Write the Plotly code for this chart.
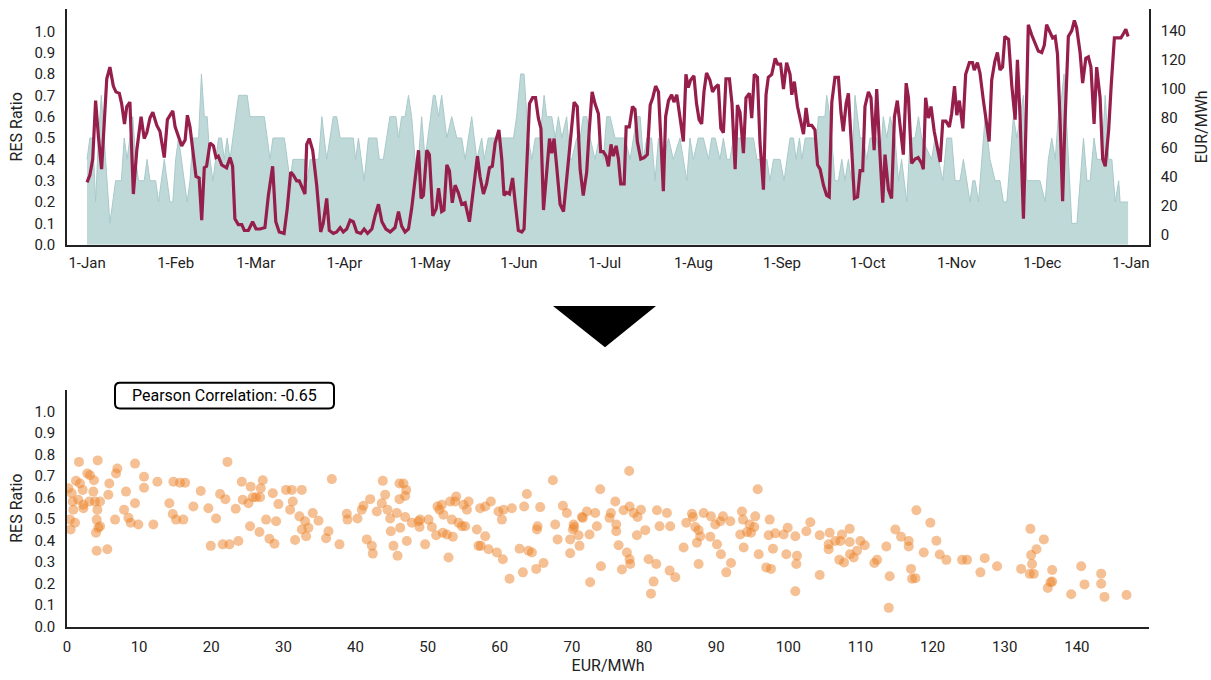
import plotly.graph_objects as go
import pandas as pd

# ---------------- data ----------------
base_date = "2021-01-01"

# daily RES ratio (area, left axis): day offset from 1-Jan, value
res_day = list(range(0, 72)) + [
    72, 76, 77, 78, 81, 82.1, 83.8, 86.1, 87.3, 88.5, 93.1, 93.9, 94.9, 96.9, 98.4, 101.3, 102.2,
    103.6, 105.9, 108, 108.9, 110, 111.2, 112.4, 113.5, 115.3, 117, 118.2, 121.1, 121.7, 122.9,
    124, 125.8, 127.5, 129.3, 131, 132.2, 134.5, 136.3, 138, 138.9, 140.3, 144.4,
    149.1, 150.2, 151.6, 152.8, 154.3, 155.5, 156.7, 158.4, 159.8, 160.7, 162.5, 163.7, 164.8,
    166, 167.7, 168.9, 169.5, 171.2, 172.4, 173.5, 174.7, 175.9, 177.6, 179.1, 180.5, 181.7,
    182.9, 184.6, 188.1, 189.9, 191, 192.2, 193.4, 194.5, 195.7, 197.4, 198.6, 199.8, 201.5,
    203.3, 205, 207.3, 209.7, 210.8, 212, 213.7, 215.5, 217.3, 218.4,
    219.6, 221.3, 222.5, 223.7, 224.8, 226, 233, 234.2, 236.5, 237.7, 238.8, 240, 242.3, 243.7,
    245.8, 247, 247.9, 249.1, 249.9, 251.1, 255.1, 255.7, 258, 258.6, 259.8, 261.5, 262.7, 263.9,
    265, 266.2, 267.3, 268.5, 270.3, 271.4, 272.6, 273.8, 276.1, 277.3, 278.4, 279.6, 280.8,
    282.5, 283.7, 284.8, 286.6, 287.8, 289.5, 290.7, 291.8,
    295.3, 296.5, 297.7, 299.2, 300.6, 302.3, 303.5, 305.2, 306.4, 307.6, 308.7, 309.7, 310.5,
    311.7, 312.8, 314, 315.7, 317.5, 319.2, 320.4, 321.6, 322.7, 323.9, 325.1, 326.2, 327.4,
    328.6, 330.3, 333.2, 335, 336.1, 337.3, 338.5, 339.6, 340.8, 341.6, 343.1, 344.3, 346.1,
    347.2, 348.4, 349.6, 350.7, 352.1, 353.1, 354.8, 356, 357.2, 358.3, 359.5, 360.7, 361.2, 364]
res_ratio = [
    0.4, 0.5, 0.5, 0.2, 0.5, 0.7, 0.5, 0.3, 0.1, 0.2,
    0.3, 0.3, 0.3, 0.5, 0.4, 0.5, 0.6, 0.4, 0.3, 0.3,
    0.3, 0.4, 0.3, 0.3, 0.3, 0.2, 0.3, 0.4, 0.3, 0.2,
    0.2, 0.4, 0.5, 0.4, 0.3, 0.2, 0.3, 0.5, 0.5, 0.5,
    0.8, 0.6, 0.6, 0.4, 0.3, 0.4, 0.5, 0.5, 0.4, 0.5,
    0.4, 0.5, 0.6, 0.7, 0.7, 0.7, 0.7, 0.6, 0.6, 0.6,
    0.6, 0.6, 0.6, 0.5, 0.4, 0.5, 0.5, 0.5, 0.5, 0.5,
    0.4, 0.3,
    0.4, 0.4, 0.3, 0.4, 0.4, 0.6, 0.4, 0.6, 0.6, 0.5, 0.5, 0.4, 0.5, 0.3, 0.5, 0.5, 0.4,
    0.4, 0.6, 0.6, 0.5, 0.6, 0.6, 0.7, 0.6, 0.3, 0.6, 0.4, 0.7, 0.7, 0.6,
    0.7, 0.5, 0.6, 0.5, 0.5, 0.4, 0.6, 0.4, 0.5, 0.4, 0.5, 0.5,
    0.5, 0.6, 0.8, 0.8, 0.5, 0.4, 0.5, 0.5, 0.7, 0.6, 0.6, 0.5, 0.6,
    0.5, 0.6, 0.4, 0.4, 0.5, 0.5, 0.6, 0.6, 0.5, 0.4, 0.5, 0.4, 0.6,
    0.6, 0.5, 0.5, 0.4, 0.5, 0.6, 0.6, 0.4, 0.5, 0.5, 0.3, 0.5, 0.4,
    0.5, 0.4, 0.5, 0.3, 0.5, 0.4, 0.5, 0.5, 0.4, 0.5,
    0.5, 0.4, 0.5, 0.4, 0.4, 0.5, 0.5, 0.4, 0.4, 0.4, 0.3, 0.4, 0.4, 0.3,
    0.5, 0.5, 0.4, 0.5, 0.4, 0.5, 0.5, 0.6, 0.6, 0.7, 0.6, 0.3, 0.3, 0.4,
    0.3, 0.4, 0.3, 0.7, 0.5, 0.5, 0.4, 0.5, 0.5, 0.4, 0.6, 0.5, 0.6,
    0.5, 0.3, 0.4, 0.2, 0.5, 0.5, 0.6, 0.5,
    0.4, 0.5, 0.4, 0.3, 0.5, 0.5, 0.3, 0.3, 0.4, 0.3, 0.2, 0.3, 0.3,
    0.2, 0.4, 0.6, 0.4, 0.3, 0.3, 0.2, 0.2, 0.4, 0.6, 0.5, 0.6, 0.7,
    0.3, 0.3, 0.3, 0.2, 0.4, 0.5, 0.4, 0.6, 0.7, 0.8, 0.4, 0.1, 0.1,
    0.3, 0.5, 0.3, 0.3, 0.5, 0.4, 0.4, 0.7, 0.4, 0.4, 0.2, 0.3, 0.2, 0.2]

# daily electricity price (line, right axis): day offset from 1-Jan, EUR/MWh
price_day = [
    0, 1, 2, 3, 4, 5.1, 6.9, 8, 9.2, 10.1, 11.3, 12.1, 13.1, 13.9, 15, 16.2, 17.4, 18.9, 20, 20.9,
    22, 23, 24.4, 25.5, 27, 28.1, 30, 30.8, 31.7, 33.1, 34.3, 35.1, 36, 37.2, 38.1, 39.2, 40.1, 41,
    41.8, 43, 44.2, 45.1, 45.9, 47.1, 48.8, 50, 50.9, 51.7, 52.9, 54.1, 55, 56.4, 57.9, 59.1, 60.5,
    62.2, 63.4, 64.9, 66, 67.2, 68.9, 70, 71.2,
    72.1, 73.3, 74.2, 75.4, 76.2, 76.8, 77.7, 78.9, 80.3, 81.7, 82.6, 83.8, 84.7, 86.1, 87.3, 88.5,
    89.6, 90.8, 92, 93.1, 94.3, 95.7, 96.9, 98.1, 99.6, 100.7, 101.9, 103.1, 104.5, 106, 107.7,
    108.9, 110, 111.2, 112.4, 113.5, 114.7, 115.9, 116.8, 117.6, 118.8, 119.7, 120.9, 122.1, 122.9,
    124, 124.8, 125.8, 126.7, 127.7, 128.7, 129.8, 131, 132.2, 133.7, 135.1, 136.5, 137.4, 138.6,
    139.7, 140.7, 141.7, 142.7, 144,
    145, 145.8, 146.7, 147.7, 148.8, 149.7, 150.8, 152, 152.8, 153.7, 154.7, 155.8, 156.8, 157.8,
    158.7, 159.6, 160.7, 161.7, 162.5, 163.3, 164.2, 165.4, 166.6, 167.7, 168.9, 170.3, 171.4,
    172.4, 173.5, 174.7, 175.6, 176.6, 177.6, 178.8, 179.6, 180.5, 181.5, 182.3, 183.2, 184, 185,
    185.8, 186.6, 187.8, 188.5, 189.6, 190.7, 191.6, 192.4, 193.6, 194.8, 195.9, 196.9, 197.8,
    198.8, 199.8, 200.6, 201.5, 202.3, 203.3, 204.4, 205.2, 206.2, 207.3, 208.5, 209.4, 210.2,
    211, 212.2, 213.1, 214, 214.9, 215.7, 216.6,
    217.8, 218.7, 219.6, 220.7, 221.6, 222.5, 223.4, 224.6, 225.5, 226.6, 227.4, 228.3, 229.5,
    230.4, 231.6, 232.4, 233.3, 234.4, 235.3, 236.5, 237.4, 238.2, 239.4, 240.6, 241.5, 242.5,
    243.5, 244.6, 245.8, 246.4, 247.3, 248.4, 249.3, 250.5, 251.4, 252.2, 253.4, 254.5, 255.4,
    256.3, 257.5, 258.6, 259.5, 260.4, 261.5, 262.7, 263.6, 264.4, 265.4, 266.2, 267.4, 268.3,
    269.4, 270.3, 271.2, 272, 273.2, 274.1, 275.2, 276.1, 277.3, 278.2, 279, 280.2, 281.3, 282.3,
    283.3, 284.3, 285.4, 286.4, 287.2, 288.3, 289.5, 290.6, 291.8,
    292.4, 293.2, 294.2, 295.1, 296.2, 297.1, 298.3, 299.2, 300.3, 301.5, 302.3, 303.3, 304.1,
    305, 306.2, 307.2, 308.5, 309.6, 310.2, 311.3, 312.2, 313.4, 314.3, 315.4, 316.3, 317.4,
    318.3, 319.2, 320.1, 320.9, 322.2, 323.3, 324.5, 325.3, 326.2, 327.4, 328.3, 329.1, 330.3,
    331.4, 332.6, 333.8, 334.7, 335.5, 336.7, 337.6, 338.5, 339.3, 340.2, 341.1, 341.9, 343.1,
    344.3, 345.2, 346, 347.2, 348.1, 349.2, 350.1, 351, 352.1, 353, 354.2, 355.1, 356, 357.2,
    358.1, 359.2, 360.4, 361.5, 362.4, 363.2, 364]
price_eur = [
    36, 41, 52, 92, 67, 45, 107, 115, 102, 98, 97, 90, 76, 88, 91, 28, 58, 81, 66, 70,
    80, 84, 75, 71, 53, 79, 85, 74, 69, 61, 65, 82, 74, 52, 40, 39, 10, 46,
    47, 63, 61, 53, 54, 48, 46, 53, 47, 11, 7, 7, 3, 3, 9, 4, 4,
    5, 27, 47, 9, 2, 1, 18, 43,
    41, 37, 37, 31, 28, 62, 66, 58, 34, 2, 8, 25, 3, 1, 2, 5,
    2, 4, 10, 9, 2, 1, 4, 1, 4, 13, 21, 9, 4, 2, 5,
    16, 6, 2, 4, 18, 40, 58, 25, 27, 58, 55, 13, 18, 32,
    16, 17, 48, 44, 22, 34, 29, 21, 22, 9, 31, 54, 40, 28,
    35, 46, 47, 63, 72,
    52, 27, 29, 28, 39, 22, 3, 2, 4, 45, 90, 94, 94, 80,
    73, 17, 45, 66, 56, 66, 47, 21, 16, 38, 63, 91, 88,
    45, 27, 43, 72, 98, 90, 83, 57, 57, 54, 47, 62, 54, 61,
    52, 35, 35, 74, 74, 88, 86, 64, 52, 53, 55, 89, 94,
    102, 98, 67, 30, 81, 92, 96, 91, 96, 81, 64, 110, 101,
    106, 109, 90, 79, 76, 98, 111,
    106, 98, 101, 103, 73, 70, 107, 107, 90, 45, 89, 84, 56,
    94, 97, 80, 110, 108, 63, 31, 96, 108, 110, 121, 117, 117,
    100, 118, 110, 96, 105, 88, 80, 69, 87, 75, 75, 72, 48,
    45, 34, 27, 26, 91, 108, 108, 84, 71, 90, 97, 57, 25,
    26, 44, 44, 88, 98, 94, 58, 100, 53, 22, 55, 31, 25, 81,
    92, 76, 55, 104, 94, 49, 52, 53, 49,
    45, 94, 80, 88, 71, 63, 50, 78, 78, 74, 83, 102, 82,
    92, 73, 110, 118, 118, 113, 118, 111, 92, 80, 64, 106, 119,
    125, 113, 115, 136, 134, 103, 79, 120, 82, 11, 76, 144, 137,
    131, 126, 125, 130, 144, 138, 135, 136, 124, 79, 23, 76, 136,
    140, 147, 142, 125, 104, 121, 122, 115, 76, 115, 94, 52, 47, 72,
    103, 135, 135, 135, 138, 141, 136]

# scatter: daily price (EUR/MWh) vs RES ratio
scatter_eur = [
    1.66, 4.25, 0.18, 0.65, 1.25, 1.80, 0.79, 0.42, 0.51, 0.88, 1.11, 1.57, 2.27, 2.82, 3.19, 2.17,
    2.27, 3.10, 3.74, 3.65, 3.88, 4.58, 4.21, 4.11, 4.02, 4.11, 4.35, 4.58, 5.73, 5.87, 5.59, 6.66,
    6.80, 6.98, 7.91, 8.18, 8.51, 8.83, 9.43, 9.43, 9.89, 10.68, 10.68, 11.97, 12.53, 14.19, 14.66,
    15.12, 14.75, 15.67, 16.37, 16.13, 17.52, 18.54, 19.60, 19.93, 20.67, 21.22, 21.96, 22.24,
    21.59, 22.52, 23.39, 23.76, 24.23, 24.36, 25.15, 25.38, 25.47, 25.75, 26.21, 26.68, 26.77,
    26.86, 27.14, 27.60, 28.06, 28.53, 28.76, 28.99, 29.31, 30.37, 31.16, 30.93, 31.30, 31.62,
    32.22, 32.55, 32.55, 33.01, 33.15, 33.47, 34.07, 34.86, 35.92, 36.25, 36.71, 37.77, 38.79,
    38.88, 40.27, 40.87, 41.10, 41.56, 42.03, 42.26, 42.39, 42.95, 43.64, 43.78, 44.11, 44.43,
    44.80, 44.89, 45.26, 45.72, 45.82, 46.19, 46.09, 46.09,
    46.65, 47.02, 46.88, 47.11, 46.88, 47.80, 48.73, 48.96, 48.87, 49.65, 50.12, 50.58, 51.18,
    51.36, 51.64, 51.96, 52.19, 52.10, 52.66, 52.89, 53.49, 53.35, 53.12, 53.81, 53.95, 54.28,
    54.97, 54.74, 55.20, 55.67, 55.44, 56.82, 57.05, 57.37, 57.28, 57.98, 57.98, 58.44, 58.76,
    59.59, 59.82, 60.42, 60.29, 60.51, 61.35, 61.67, 62.74, 63.20, 63.38, 63.75, 63.98, 64.45,
    65.14, 65.23, 65.05, 65.60, 66.06, 67.36, 67.68, 68.01, 68.75, 69.30, 69.76, 69.76, 70.13,
    70.23, 70.32, 71.05, 70.92, 71.38, 71.51, 72.07, 72.44, 72.53, 73.23, 73.46, 73.92, 74.02,
    75.21, 75.40, 76.01, 76.14, 76.14, 76.47, 76.93, 77.16, 77.62, 77.99, 77.99, 78.08, 77.94,
    78.55, 79.10, 79.01, 79.57, 80.17, 80.63, 81.32, 80.96, 81.69, 81.79, 82.15, 83.17, 83.54,
    83.63, 84.33, 85.48, 85.85, 86.64, 86.78, 87.10, 87.33, 87.56, 87.56, 87.79, 88.26, 89.18,
    89.27, 89.87, 90.11, 90.57, 90.66, 90.94, 91.40, 91.96, 92.05, 93.34, 93.57, 93.81, 93.71,
    94.27, 94.64, 94.82, 95.28, 95.42, 95.89, 95.75, 96.94, 97.27, 97.41, 97.59, 97.87, 98.19,
    99.35, 99.72, 99.91, 100.97, 101.11, 101.20, 100.97,
    103.05, 102.50, 104.35, 105.73, 105.59, 105.59, 106.52, 107.21, 107.44, 108.51, 108.51,
    109.99, 110.59, 109.06, 109.52, 108.55, 107.07, 107.72, 104.35, 111.93, 112.30, 113.59,
    114.05, 113.92, 114.84, 115.63, 116.69, 116.69, 117.01, 117.15, 117.61, 117.75, 118.77,
    119.69, 120.53, 120.99, 121.91, 124.09, 124.78, 126.63, 127.23, 128.94, 132.27, 133.47,
    134.03, 133.56, 133.66, 133.79, 134.40, 135.42, 135.97, 136.35, 136.58, 136.58, 139.21,
    140.60, 141.06, 143.37, 143.37, 143.83, 146.88]
scatter_res = [
    0.765, 0.772, 0.642, 0.619, 0.677, 0.665, 0.581, 0.497, 0.451, 0.543, 0.482, 0.589, 0.566,
    0.711, 0.703, 0.635, 0.550, 0.581, 0.680, 0.627, 0.581, 0.581, 0.543, 0.497, 0.436, 0.352,
    0.459, 0.466, 0.612, 0.665, 0.359, 0.497, 0.711, 0.734, 0.543, 0.627, 0.505, 0.482, 0.573,
    0.757, 0.474, 0.696, 0.645, 0.474, 0.673, 0.573, 0.523, 0.497, 0.673, 0.668, 0.668, 0.497,
    0.558, 0.630, 0.550, 0.375, 0.502, 0.616, 0.592, 0.765, 0.382, 0.382, 0.547, 0.398, 0.673,
    0.589, 0.573, 0.466, 0.650, 0.601, 0.601, 0.439, 0.601, 0.642, 0.680, 0.497, 0.408, 0.619,
    0.385, 0.489, 0.569, 0.635, 0.635, 0.543, 0.581, 0.402, 0.512, 0.635, 0.451, 0.489, 0.420,
    0.459, 0.528, 0.492, 0.410, 0.443, 0.685, 0.382, 0.524, 0.497, 0.502, 0.543, 0.561, 0.405,
    0.592, 0.375, 0.339, 0.535, 0.573, 0.677, 0.612, 0.543, 0.502, 0.443, 0.375, 0.528, 0.329,
    0.459, 0.665, 0.592,
    0.665, 0.635, 0.607, 0.398, 0.509, 0.482, 0.489, 0.497, 0.463, 0.382, 0.497, 0.463, 0.424,
    0.558, 0.543, 0.566, 0.520, 0.436, 0.428, 0.321, 0.417, 0.497, 0.581, 0.581, 0.604, 0.482,
    0.566, 0.466, 0.466, 0.581, 0.543, 0.451, 0.375, 0.375, 0.550, 0.558, 0.420, 0.359, 0.581,
    0.344, 0.535, 0.313, 0.497, 0.543, 0.222, 0.550, 0.362, 0.252, 0.558, 0.616, 0.352, 0.344,
    0.451, 0.466, 0.268, 0.555, 0.295, 0.680, 0.474, 0.405, 0.561, 0.528, 0.405, 0.341, 0.451,
    0.474, 0.463, 0.375, 0.424, 0.509, 0.505, 0.535, 0.428, 0.206, 0.528, 0.466, 0.638, 0.280,
    0.505, 0.528, 0.581, 0.474, 0.443, 0.378, 0.265, 0.540, 0.344, 0.558, 0.313, 0.291, 0.723,
    0.528, 0.509, 0.424, 0.543, 0.448, 0.313, 0.209, 0.153, 0.291, 0.540, 0.466, 0.528, 0.260,
    0.466, 0.229, 0.367, 0.482, 0.524, 0.509, 0.463, 0.390, 0.448, 0.291, 0.420, 0.528, 0.417,
    0.512, 0.474, 0.382, 0.489, 0.336, 0.512, 0.252, 0.489, 0.295, 0.428, 0.535, 0.367, 0.497,
    0.439, 0.474, 0.436, 0.463, 0.512, 0.336, 0.638, 0.275, 0.424, 0.497, 0.268, 0.362, 0.433,
    0.428, 0.336, 0.459, 0.420, 0.291, 0.329, 0.164,
    0.485, 0.443, 0.424, 0.436, 0.382, 0.359, 0.398, 0.398, 0.428, 0.454, 0.393,
    0.398, 0.378, 0.321, 0.352, 0.336, 0.310, 0.298, 0.240, 0.295, 0.310, 0.372,
    0.234, 0.087, 0.451, 0.417, 0.398, 0.372, 0.268, 0.222, 0.225, 0.540, 0.344,
    0.482, 0.399, 0.335, 0.310, 0.310, 0.310, 0.252, 0.318, 0.280, 0.268, 0.245,
    0.245, 0.454, 0.332, 0.291, 0.359, 0.405, 0.179, 0.206, 0.209, 0.263, 0.150,
    0.280, 0.196, 0.246, 0.199, 0.138, 0.147]

month_tick_labels = ["1-Jan", "1-Feb", "1-Mar", "1-Apr", "1-May", "1-Jun", "1-Jul",
                     "1-Aug", "1-Sep", "1-Oct", "1-Nov", "1-Dec", "1-Jan"]
ratio_ticks = [0.0, 0.1, 0.2, 0.3, 0.4, 0.5, 0.6, 0.7, 0.8, 0.9, 1.0]
price_ticks = [0, 20, 40, 60, 80, 100, 120, 140]
scatter_price_ticks = [0, 10, 20, 30, 40, 50, 60, 70, 80, 90, 100, 110, 120, 130, 140]
pearson_text = "Pearson Correlation: -0.65"

# ---------------- figure ----------------
W, H = 1211, 680
AX_L, AX_R = 67, 1149          # x of the left / right axis lines
ML, MR = AX_L, W - AX_R
base = pd.Timestamp(base_date)


def to_dates(days):
    return [base + pd.Timedelta(days=d) for d in days]


def px_x(px):
    return (px - ML) / (W - ML - MR)


def px_y(py):
    return 1 - py / H


FONT = "Roboto, 'Open Sans', sans-serif"
INK = "#222222"

fig = go.Figure()
fig.add_trace(go.Scatter(
    x=to_dates(res_day), y=res_ratio, mode="lines", fill="tozeroy",
    line=dict(color="#A9C9CA", width=1), fillcolor="#BFD9D9",
    xaxis="x", yaxis="y", showlegend=False, name="RES Ratio"))
fig.add_trace(go.Scatter(
    x=to_dates(price_day), y=price_eur, mode="lines",
    line=dict(color="#961E4B", width=3.2),
    xaxis="x", yaxis="y2", showlegend=False, name="EUR/MWh"))
fig.add_trace(go.Scatter(
    x=scatter_eur, y=scatter_res, mode="markers",
    marker=dict(size=10, color="rgba(236,130,40,0.5)", line=dict(width=0)),
    xaxis="x2", yaxis="y3", showlegend=False, name="daily"))

month_vals = list(pd.date_range(base, periods=13, freq="MS"))

axis_common = dict(showline=True, linecolor=INK, linewidth=1.5, showgrid=False,
                   zeroline=False, ticks="", tickfont=dict(size=15, color=INK, family=FONT))

top_dom = [px_y(248), px_y(9)]
bot_dom = [px_y(635), px_y(395)]
ratio_text = [f"{v:.1f}" for v in ratio_ticks]

fig.update_layout(
    width=W, height=H, margin=dict(l=ML, r=MR, t=0, b=0, pad=0),
    paper_bgcolor="white", plot_bgcolor="white",
    font=dict(family=FONT, size=15, color=INK),
    xaxis=dict(axis_common, domain=[0, 1], anchor="y", type="date",
               range=[base - pd.Timedelta(days=7.0), base + pd.Timedelta(days=371.3)],
               tickvals=month_vals, ticktext=month_tick_labels, ticklabelstandoff=4),
    yaxis=dict(axis_common, domain=top_dom, anchor="x", range=[0, 1.105],
               tickvals=ratio_ticks, ticktext=ratio_text, ticklabelstandoff=7,
               title=dict(text="RES Ratio", font=dict(size=16), standoff=8)),
    yaxis2=dict(axis_common, overlaying="y", side="right", anchor="x", range=[-6.76, 154.9],
                tickvals=price_ticks, ticklabelstandoff=7,
                title=dict(text="EUR/MWh", font=dict(size=16), standoff=11)),
    xaxis2=dict(axis_common, domain=[0, 1], anchor="y3", range=[0, 150],
                tickvals=scatter_price_ticks, ticklabelstandoff=6,
                title=dict(text="EUR/MWh", font=dict(size=16), standoff=2)),
    yaxis3=dict(axis_common, domain=bot_dom, anchor="x2", range=[0, 1.1],
                tickvals=ratio_ticks, ticktext=ratio_text, ticklabelstandoff=7,
                title=dict(text="RES Ratio", font=dict(size=16), standoff=8)),
)

# rounded box for the correlation text
bx0, bx1, by0, by1 = px_x(115), px_x(334), px_y(414), px_y(388)
rx, ry = 5 / (W - ML - MR), 5 / H
box_path = (f"M {bx0+rx},{by1} L {bx1-rx},{by1} Q {bx1},{by1} {bx1},{by1-ry} "
            f"L {bx1},{by0+ry} Q {bx1},{by0} {bx1-rx},{by0} L {bx0+rx},{by0} "
            f"Q {bx0},{by0} {bx0},{by0+ry} L {bx0},{by1-ry} Q {bx0},{by1} {bx0+rx},{by1} Z")
fig.add_shape(type="path", path=box_path, xref="paper", yref="paper",
              line=dict(color="black", width=2), fillcolor="white", layer="above")
fig.add_annotation(x=(bx0 + bx1) / 2, y=(by0 + by1) / 2, xref="paper", yref="paper",
                   text=pearson_text, showarrow=False, xanchor="center", yanchor="middle",
                   font=dict(size=16, color="black", family=FONT))

# arrow triangle between the panels
tri = (f"M {px_x(553)},{px_y(310)} L {px_x(656)},{px_y(310)} "
       f"L {px_x(605)},{px_y(352)} Z")
fig.add_shape(type="path", path=tri, xref="paper", yref="paper",
              fillcolor="black", line=dict(width=0))

# page chrome: no body margin and no scrollbars, so the figure fills the window exactly
post = """
var de = document.documentElement, bd = document.body;
de.style.margin = '0'; de.style.padding = '0'; de.style.overflow = 'hidden';
bd.style.margin = '0'; bd.style.padding = '0'; bd.style.overflow = 'hidden';
var gd = document.getElementById('{plot_id}');
gd.parentNode.style.margin = '0'; gd.parentNode.style.padding = '0';
"""
fig.write_html("out.html", include_plotlyjs=True,
               config={"displayModeBar": False, "responsive": False},
               post_script=post)
